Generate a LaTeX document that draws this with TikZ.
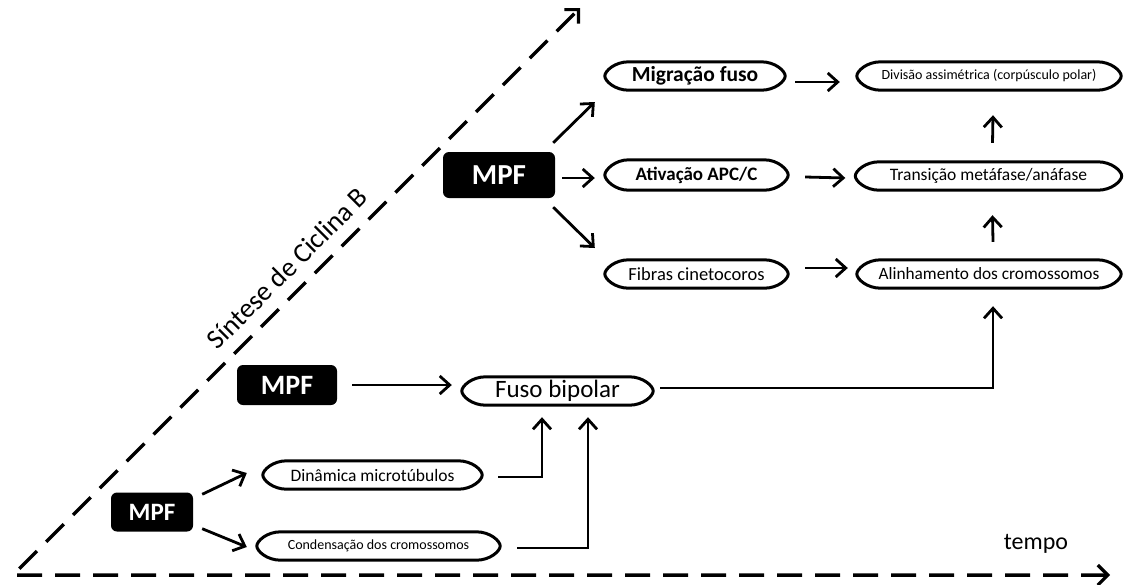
\documentclass[tikz,border=0pt]{standalone}
\usepackage{fontspec}
\setmainfont{Carlito}
\usetikzlibrary{arrows.meta}
\newcommand{\fsz}[1]{\fontsize{#1}{#1}\selectfont}
\tikzset{
  mpfbox/.style={fill=black, rounded corners=6pt, text=white, inner sep=0pt},
  ovalbox/.style={minimum height=28pt, inner sep=0pt, text=black},
  ovalline/.style={line width=3pt, line join=round},
  arr/.style={line width=2.8pt, -{Straight Barb[length=10pt,width=18pt,line width=2.8pt]}},
  axis/.style={line width=3.5pt, dash pattern=on 25pt off 13pt, {Straight Barb[length=10pt,width=20pt,line width=3.2pt]}-{Straight Barb[length=10pt,width=20pt,line width=3.2pt]}},
}
\begin{document}
\begin{tikzpicture}[x=1pt,y=-1pt]
\useasboundingbox[fill=white] (0,0) rectangle (1126,584);

% axes
\coordinate (O) at (13,575);
\coordinate (X) at (1110,575);
\coordinate (Y) at (580,8);
\draw[axis] (X) -- (O) -- (Y);
\node[rotate=45, font=\fsz{27.5}] (sint) at (287,268) {Síntese de Ciclina B};
\node[font=\fsz{24}] (tempo) at (1036,544) {tempo};

% MPF boxes
\node[mpfbox, minimum width=82pt, minimum height=39pt, font=\fsz{25}\bfseries] (mpfA) at (152,512) {MPF};
\node[mpfbox, minimum width=100pt, minimum height=40pt, font=\fsz{28}\bfseries] (mpfB) at (287,385) {MPF};
\node[mpfbox, minimum width=112pt, minimum height=46pt, font=\fsz{29}\bfseries] (mpfC) at (499,175) {MPF};

% ovals
\node[ovalbox, minimum width=219pt, font=\fsz{17.5}] (din) at (372.5,475) {Dinâmica microtúbulos};
\node[ovalbox, minimum width=243pt, font=\fsz{14}] (cond) at (378.5,546) {Condensação dos cromossomos};
\node[ovalbox, minimum width=191pt, font=\fsz{25}] (fuso) at (557.5,391) {Fuso bipolar};
\node[ovalbox, minimum width=180pt, font=\fsz{21.5}\bfseries] (mig) at (695,76) {Migração fuso};
\node[ovalbox, minimum width=183pt, minimum height=30pt, font=\fsz{19}\bfseries] (ativ) at (696.5,175) {Ativação APC/C};
\node[ovalbox, minimum width=183pt, font=\fsz{18.5}] (fib) at (696.5,274) {Fibras cinetocoros};
\node[ovalbox, minimum width=264pt, font=\fsz{14}] (div) at (989,76) {Divisão assimétrica (corpúsculo polar)};
\node[ovalbox, minimum width=266pt, font=\fsz{17.5}] (trans) at (988.5,176) {Transição metáfase/anáfase};
\node[ovalbox, minimum width=264pt, font=\fsz{17.3}] (alin) at (989,274) {Alinhamento dos cromossomos};

\foreach \n in {din,cond,fuso,mig,ativ,fib,div,trans,alin}{
  \draw[ovalline] ([shift={(24,0)}]\n.north west) -- ([shift={(-24,0)}]\n.north east)
    .. controls ([shift={(-10,0)}]\n.north east) and ([shift={(0,-5)}]\n.east) .. (\n.east)
    .. controls ([shift={(0,5)}]\n.east) and ([shift={(-10,0)}]\n.south east) .. ([shift={(-24,0)}]\n.south east)
    -- ([shift={(24,0)}]\n.south west)
    .. controls ([shift={(10,0)}]\n.south west) and ([shift={(0,5)}]\n.west) .. (\n.west)
    .. controls ([shift={(0,-5)}]\n.west) and ([shift={(10,0)}]\n.north west) .. ([shift={(24,0)}]\n.north west)
    -- cycle;
}

% connectors
\draw[arr] ([shift={(9,2)}]mpfA.north east) -- ([shift={(-16,-2)}]din.west);
\draw[arr] ([shift={(9,-3)}]mpfA.south east) -- ([shift={(-10,1)}]cond.west);
\draw[arr] ([shift={(15,0)}]mpfB.east) -- ([shift={(-10,0)}]fuso.west |- mpfB.east);
\draw[arr] ([shift={(16,2)}]din.east) -| ([shift={(-15.5,12)}]fuso.south);
\draw[arr] ([shift={(17,2)}]cond.east) -| ([shift={(30.5,12)}]fuso.south);
\draw[arr] ([shift={(7,-3)}]fuso.east) -| ([shift={(4,18)}]alin.south);

\draw[arr] ([shift={(-2,-9)}]mpfC.north east) -- ([shift={(-10,26)}]mig.west);
\draw[arr] ([shift={(7,3)}]mpfC.east) -- ([shift={(-10,3)}]ativ.west);
\draw[arr] ([shift={(-2,9)}]mpfC.south east) -- ([shift={(-10,-26)}]fib.west);

\draw[arr] ([shift={(10,6)}]mig.east) -- ([shift={(-17,6)}]div.west);
\draw[arr] ([shift={(17,2)}]ativ.east) -- ([shift={(-10,2)}]trans.west);
\draw[arr] ([shift={(17,-6)}]fib.east) -- ([shift={(-9,-6)}]alin.west);
\draw[arr] ([shift={(4,-18)}]alin.north) -- ([shift={(4,25)}]trans.south);
\draw[arr] ([shift={(4,-19)}]trans.north) -- ([shift={(4,25)}]div.south);
\end{tikzpicture}
\end{document}
